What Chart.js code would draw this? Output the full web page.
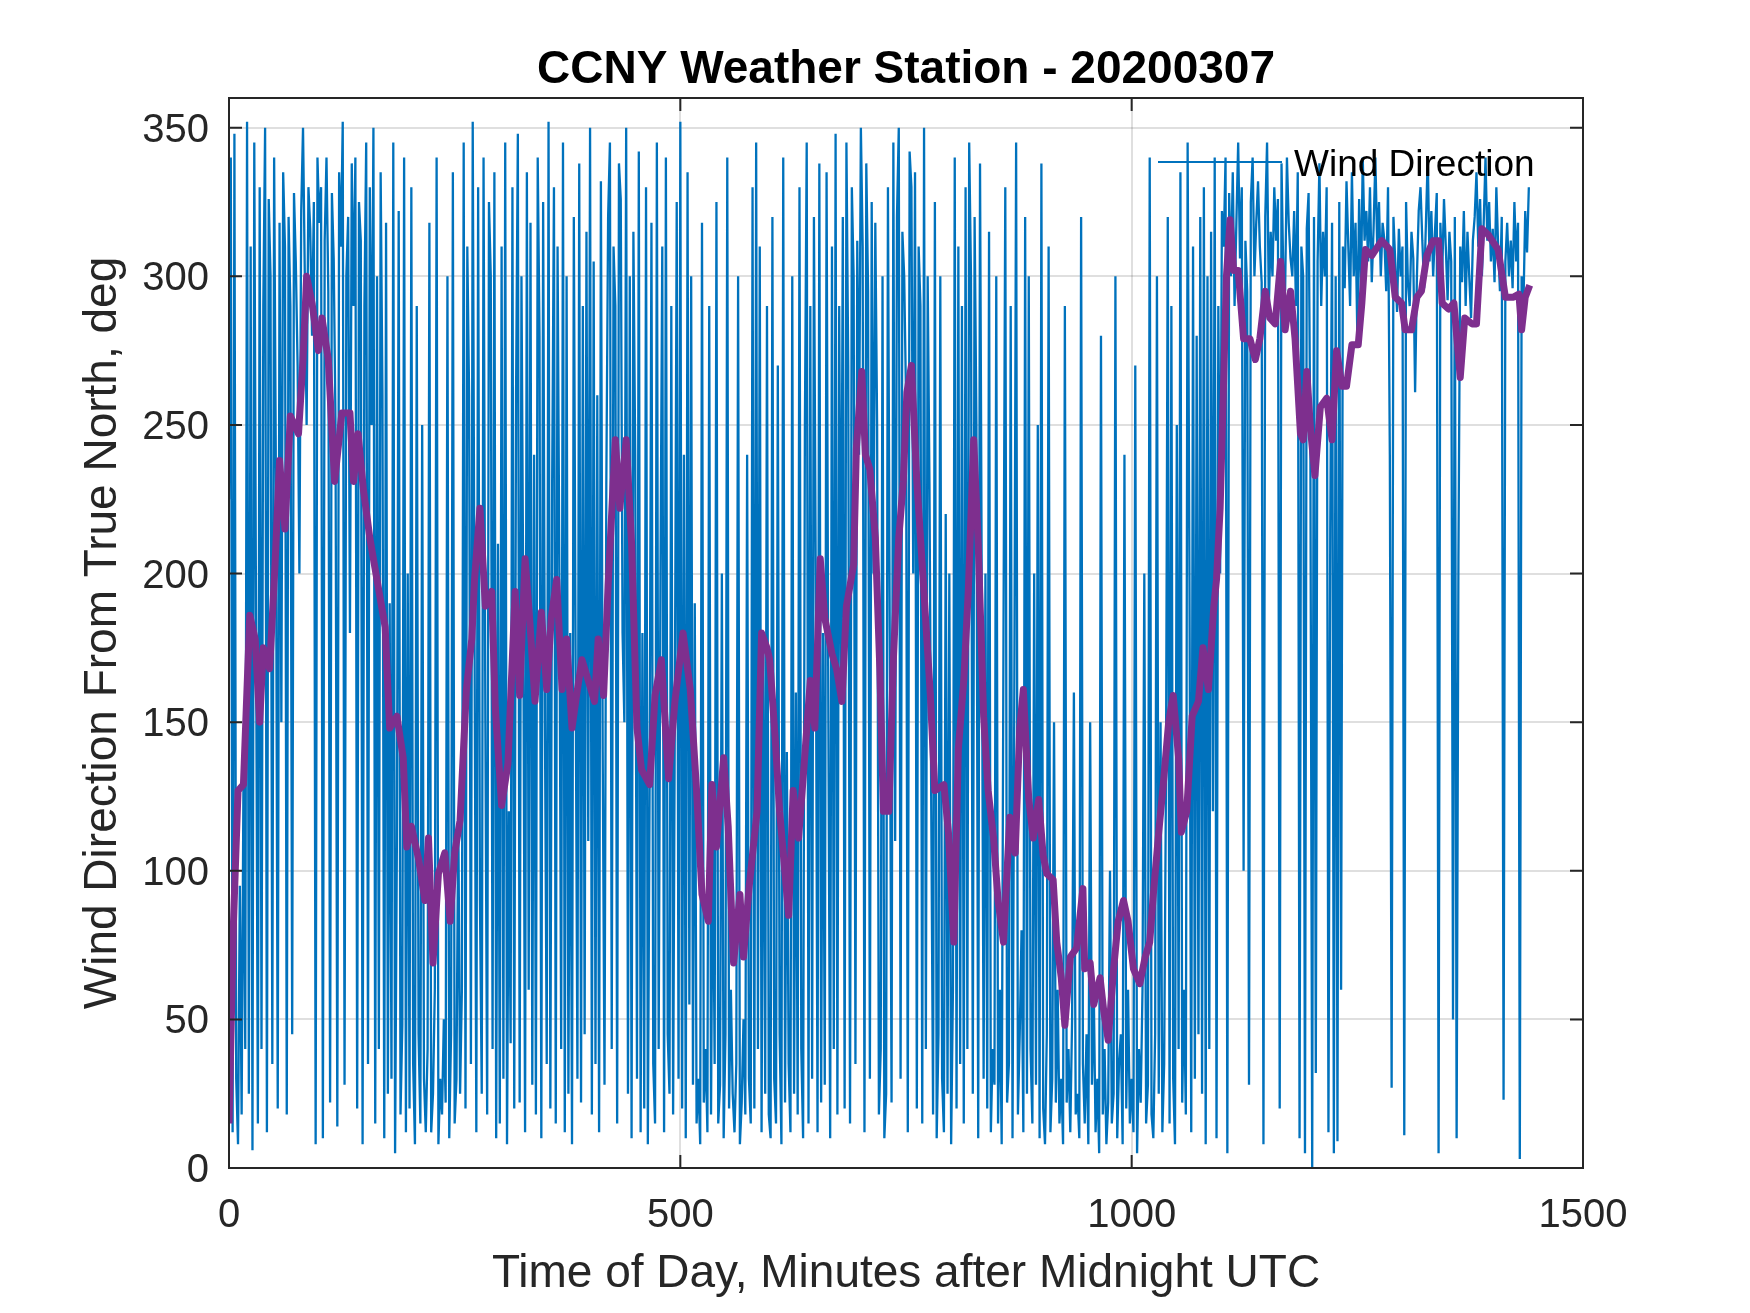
<!DOCTYPE html>
<html>
<head>
<meta charset="utf-8">
<title>CCNY Weather Station - 20200307</title>
<script src="https://cdn.jsdelivr.net/npm/chart.js@4.4.1/dist/chart.umd.min.js"></script>
<style>
  html, body { margin: 0; padding: 0; background: #fff; }
  canvas { display: block; }
</style>
</head>
<body>
<canvas id="wind-chart" width="1750" height="1313"></canvas>
<script>
// Raw wind direction, one sample every 2 minutes from 0 to 1440
const sampleStep = 2;
const windDirection = [
  225, 340, 12, 348, 30, 8, 95, 18, 130, 40,        // 0
  352, 25, 310, 6, 345, 180, 15, 330, 40, 290,      // 20
  350, 12, 326, 300, 35, 340, 230, 20, 318, 150,    // 40
  335, 310, 18, 320, 290, 45, 328, 305, 270, 200,   // 60
  322, 350, 300, 250, 330, 316, 280, 325, 8, 340,   // 80
  318, 330, 10, 312, 340, 295, 22, 328, 306, 250,   // 100
  14, 335, 310, 352, 28, 300, 320, 180, 338, 290,   // 120
  340, 20, 325, 312, 8, 290, 345, 35, 330, 250,     // 140
  350, 15, 300, 40, 335, 260, 10, 318, 25, 190,     // 160
  30, 345, 5, 110, 322, 18, 48, 340, 12, 200,       // 180
  20, 330, 35, 8, 290, 45, 15, 250, 30, 12,         // 200
  40, 318, 12, 25, 60, 340, 8, 30, 18, 50,          // 220
  22, 300, 10, 45, 335, 15, 30, 120, 25, 60,        // 240
  345, 20, 310, 260, 35, 352, 180, 12, 330, 90,     // 260
  25, 340, 150, 18, 325, 300, 40, 335, 10, 210,     // 280
  15, 310, 30, 345, 8, 120, 42, 330, 20, 260,       // 300
  348, 22, 300, 190, 12, 335, 60, 318, 28, 240,     // 320
  18, 340, 280, 10, 325, 150, 35, 352, 20, 230,     // 340
  330, 15, 310, 200, 40, 345, 12, 300, 25, 180,     // 360
  8, 320, 170, 30, 338, 22, 290, 45, 315, 110,      // 380
  350, 18, 305, 35, 260, 12, 332, 140, 28, 230,     // 400
  320, 345, 40, 310, 290, 15, 338, 326, 180, 150,   // 420
  350, 25, 300, 10, 315, 240, 30, 342, 12, 180,     // 440
  20, 330, 8, 130, 318, 35, 15, 345, 40, 200,       // 460
  310, 12, 340, 45, 25, 290, 18, 160, 325, 30,      // 480
  352, 20, 240, 10, 335, 55, 300, 28, 190, 15,      // 500
  30, 8, 318, 22, 40, 12, 290, 18, 120, 35,         // 520
  325, 15, 28, 200, 10, 45, 340, 20, 60, 25,        // 540
  12, 35, 300, 8, 22, 50, 18, 240, 30, 15,          // 560
  330, 20, 345, 40, 310, 12, 180, 25, 290, 18,      // 580
  10, 320, 30, 15, 270, 45, 8, 340, 22, 140,        // 600
  35, 12, 300, 25, 160, 18, 330, 40, 10, 250,       // 620
  345, 15, 290, 30, 320, 200, 12, 338, 22, 180,     // 640
  28, 335, 150, 10, 310, 40, 348, 18, 290, 160,     // 660
  320, 20, 345, 270, 15, 330, 300, 35, 312, 240,    // 680
  350, 310, 12, 338, 295, 30, 325, 200, 318, 250,   // 700
  18, 40, 300, 10, 25, 330, 180, 22, 345, 110,      // 720
  320, 350, 30, 315, 300, 260, 12, 342, 330, 200,   // 740
  335, 20, 310, 290, 15, 350, 40, 300, 230, 120,    // 760
  18, 325, 10, 45, 300, 30, 12, 220, 25, 200,       // 780
  8, 60, 340, 20, 310, 35, 290, 15, 330, 40,        // 800
  345, 300, 25, 320, 250, 10, 338, 190, 30, 200,    // 820
  20, 315, 12, 40, 28, 300, 15, 60, 8, 180,         // 840
  330, 22, 35, 290, 10, 160, 345, 18, 45, 80,       // 860
  12, 320, 25, 300, 40, 15, 200, 28, 250, 10,       // 880
  338, 20, 8, 45, 310, 12, 30, 150, 22, 60,         // 900
  15, 30, 8, 290, 22, 40, 12, 50, 160, 18,          // 920
  25, 10, 320, 35, 15, 45, 8, 150, 28, 60,          // 940
  12, 30, 5, 280, 18, 40, 8, 22, 100, 15,           // 960
  25, 300, 10, 35, 45, 8, 240, 20, 60, 15,          // 980
  30, 12, 270, 5, 40, 22, 60, 200, 15, 28,          // 1000
  340, 18, 10, 45, 300, 25, 150, 12, 35, 130,       // 1020
  320, 15, 290, 30, 8, 250, 40, 335, 22, 60,        // 1040
  18, 345, 200, 12, 310, 30, 280, 45, 320, 25,      // 1060
  330, 8, 300, 40, 315, 120, 340, 10, 290, 200,     // 1080
  322, 310, 340, 5, 328, 300, 335, 290, 318, 345,   // 1100
  306, 330, 100, 312, 295, 28, 325, 340, 300, 318,  // 1120
  332, 310, 298, 8, 320, 345, 290, 315, 300, 330,   // 1140
  312, 326, 20, 338, 300, 295, 340, 318, 306, 300,  // 1160
  322, 290, 335, 10, 310, 300, 5, 316, 328, 240,    // 1180
  0, 320, 32, 305, 338, 290, 315, 300, 330, 12,     // 1200
  215, 318, 5, 300, 9, 325, 60, 310, 296, 332,      // 1220
  310, 290, 335, 300, 318, 280, 326, 295, 340, 312, // 1240
  322, 305, 330, 298, 316, 340, 310, 325, 300, 318, // 1260
  312, 295, 330, 240, 27, 320, 305, 288, 316, 300,  // 1280
  310, 11, 325, 298, 290, 315, 306, 261, 300, 322,  // 1300
  330, 312, 296, 318, 340, 305, 322, 300, 315, 328, // 1320
  5, 318, 300, 326, 310, 292, 315, 305, 50, 320,    // 1340
  10, 205, 310, 298, 322, 290, 315, 300, 286, 312,  // 1360
  320, 335, 310, 326, 300, 318, 340, 312, 325, 305, // 1380
  316, 298, 330, 310, 295, 320, 23, 305, 318, 300,  // 1400
  312, 296, 325, 305, 318, 3, 300, 290, 322, 308,   // 1420
  330                                               // 1440
];

// Smoothed (running mean) curve, purple
const smoothTime = [
  0, 5, 10, 16, 23, 29, 34, 38, 45, 51, 56, 62, 68, 77, 82, 86, 92, 99, 103, 110,
  117, 125, 134, 138, 143, 149, 156, 165, 173, 178, 186, 193, 197, 202, 210, 217, 221, 226, 232, 239,
  245, 250, 256, 263, 269, 272, 278, 284, 291, 295, 302, 309, 317, 322, 328, 333, 339, 346, 352, 357,
  363, 369, 374, 380, 385, 391, 398, 405, 409, 415, 420, 428, 433, 440, 446, 452, 457, 466, 472, 479,
  487, 494, 503, 511, 518, 524, 531, 535, 540, 548, 553, 559, 566, 570, 576, 585, 590, 596, 599, 605,
  610, 616, 620, 625, 631, 636, 644, 649, 655, 660, 668, 673, 679, 684, 692, 695, 701, 705, 710, 716,
  721, 725, 731, 736, 742, 747, 751, 756, 762, 769, 777, 782, 792, 797, 803, 808, 814, 819, 825, 830,
  836, 841, 847, 852, 858, 865, 871, 876, 880, 886, 891, 897, 902, 906, 913, 917, 922, 926, 932, 939,
  946, 948, 954, 958, 965, 969, 974, 980, 985, 991, 996, 1002, 1009, 1015, 1020, 1024, 1030, 1035, 1041, 1046,
  1052, 1055, 1061, 1067, 1074, 1079, 1085, 1091, 1094, 1098, 1102, 1105, 1109, 1113, 1118, 1124, 1131, 1137, 1142, 1148,
  1153, 1159, 1165, 1170, 1176, 1181, 1187, 1190, 1194, 1198, 1203, 1209, 1216, 1222, 1227, 1233, 1238, 1244, 1251, 1255,
  1259, 1266, 1277, 1286, 1292, 1299, 1303, 1310, 1316, 1321, 1327, 1334, 1340, 1344, 1351, 1357, 1364, 1369, 1377, 1382,
  1388, 1395, 1406, 1414, 1423, 1429, 1432, 1436, 1441
];
const smoothDirection = [
  15, 83, 127, 129, 186, 178, 150, 175, 168, 203, 238, 215, 253, 247, 272, 300, 291, 275, 286, 272,
  231, 254, 254, 231, 247, 228, 212, 196, 182, 148, 152, 138, 108, 115, 104, 90, 111, 69, 99, 106,
  83, 106, 117, 161, 178, 198, 222, 189, 194, 155, 122, 136, 194, 159, 205, 185, 157, 187, 161, 185,
  198, 161, 178, 148, 159, 171, 164, 157, 178, 159, 196, 245, 222, 245, 210, 148, 134, 129, 159, 171,
  131, 157, 180, 161, 127, 92, 83, 129, 108, 138, 115, 69, 92, 71, 94, 120, 180, 175, 171, 145,
  120, 99, 85, 127, 111, 131, 164, 148, 205, 185, 173, 168, 157, 189, 203, 242, 268, 240, 235, 212,
  168, 120, 120, 171, 212, 231, 261, 270, 231, 198, 159, 127, 129, 113, 76, 141, 164, 194, 245, 210,
  152, 127, 111, 90, 76, 118, 106, 148, 161, 124, 111, 124, 105, 99, 97, 76, 64, 48, 71, 74,
  94, 67, 69, 55, 64, 53, 43, 67, 83, 90, 83, 67, 62, 71, 76, 92, 113, 129, 150, 159,
  138, 113, 120, 152, 157, 175, 161, 189, 198, 222, 266, 300, 319, 302, 302, 279, 279, 272, 279, 295,
  286, 284, 305, 282, 295, 279, 247, 245, 268, 249, 233, 256, 259, 245, 275, 263, 263, 277, 277, 291,
  309, 307, 312, 309, 293, 291, 282, 282, 293, 295, 307, 312, 312, 291, 289, 291, 266, 286, 284, 284,
  316, 314, 309, 293, 293, 294, 282, 293, 297
];

const xTicks = [0, 500, 1000, 1500];
const yTicks = [0, 50, 100, 150, 200, 250, 300, 350];

const FONT = "'Liberation Sans', Arial, Helvetica, sans-serif";
const AXIS_COLOR = '#262626';
const GRID_COLOR = 'rgba(38, 38, 38, 0.15)';

const rawPoints = windDirection.map((v, i) => ({ x: i * sampleStep, y: v }));
const smoothPoints = smoothDirection.map((v, i) => ({ x: smoothTime[i], y: v }));

// MATLAB-like frame: box, inward ticks, title and an unboxed legend
const matlabFrame = {
  id: 'matlabFrame',
  afterDatasetsDraw(chart) {
    const { ctx, chartArea: a, scales } = chart;
    const tickLen = 13;
    ctx.save();
    ctx.strokeStyle = AXIS_COLOR;
    ctx.lineWidth = 2;
    ctx.beginPath();
    scales.x.ticks.forEach((t) => {
      const px = scales.x.getPixelForValue(t.value);
      ctx.moveTo(px, a.bottom);
      ctx.lineTo(px, a.bottom - tickLen);
      ctx.moveTo(px, a.top);
      ctx.lineTo(px, a.top + tickLen);
    });
    scales.y.ticks.forEach((t) => {
      const py = scales.y.getPixelForValue(t.value);
      ctx.moveTo(a.left, py);
      ctx.lineTo(a.left + tickLen, py);
      ctx.moveTo(a.right, py);
      ctx.lineTo(a.right - tickLen, py);
    });
    ctx.stroke();
    ctx.strokeRect(a.left, a.top, a.right - a.left, a.bottom - a.top);
    ctx.restore();
  },
  afterDraw(chart) {
    const { ctx, chartArea: a } = chart;
    ctx.save();
    // title
    ctx.fillStyle = '#000';
    ctx.font = 'bold 46px ' + FONT;
    ctx.textAlign = 'center';
    ctx.textBaseline = 'alphabetic';
    ctx.fillText('CCNY Weather Station - 20200307', (a.left + a.right) / 2, a.top - 15);
    // legend (first dataset only)
    const ds = chart.data.datasets[0];
    const ly = a.top + 64;
    ctx.strokeStyle = ds.borderColor;
    ctx.lineWidth = 2;
    ctx.beginPath();
    ctx.moveTo(a.right - 425, ly);
    ctx.lineTo(a.right - 301, ly);
    ctx.stroke();
    ctx.font = '37px ' + FONT;
    ctx.textAlign = 'left';
    ctx.fillText(ds.label, a.right - 289, ly + 14);
    ctx.restore();
  }
};

const ctx = document.getElementById('wind-chart').getContext('2d');

new Chart(ctx, {
  type: 'line',
  data: {
    datasets: [
      {
        label: 'Wind Direction',
        data: rawPoints,
        borderColor: '#0072BD',
        backgroundColor: '#0072BD',
        borderWidth: 2.3,
        borderJoinStyle: 'bevel',
        pointRadius: 0,
        tension: 0,
        order: 2,
      },
      {
        label: 'Running Mean',
        data: smoothPoints,
        borderColor: '#7E2F8E',
        backgroundColor: '#7E2F8E',
        borderWidth: 7,
        borderJoinStyle: 'round',
        pointRadius: 0,
        tension: 0,
        order: 1,
      },
    ],
  },
  options: {
    responsive: false,
    devicePixelRatio: 1,
    animation: false,
    events: [],
    layout: { padding: { top: 98, right: 167, bottom: 0, left: 0 } },
    plugins: {
      legend: { display: false },
      title: { display: false },
      tooltip: { enabled: false },
    },
    scales: {
      x: {
        type: 'linear',
        min: 0,
        max: 1500,
        afterBuildTicks: (s) => { s.ticks = xTicks.map((v) => ({ value: v })); },
        afterFit: (s) => { s.height = 145; },
        grid: { color: GRID_COLOR, lineWidth: 2, drawTicks: false },
        border: { display: false },
        ticks: {
          font: { family: FONT, size: 40 },
          color: AXIS_COLOR,
          padding: 24,
          maxRotation: 0,
          autoSkip: false,
          callback: (v) => String(v),
        },
        title: {
          display: true,
          text: 'Time of Day, Minutes after Midnight UTC',
          font: { family: FONT, size: 46 },
          color: AXIS_COLOR,
          padding: { top: 0, bottom: 11 },
        },
      },
      y: {
        type: 'linear',
        min: 0,
        max: 360,
        afterBuildTicks: (s) => { s.ticks = yTicks.map((v) => ({ value: v })); },
        afterFit: (s) => { s.width = 229; },
        grid: { color: GRID_COLOR, lineWidth: 2, drawTicks: false },
        border: { display: false },
        ticks: {
          font: { family: FONT, size: 40 },
          color: AXIS_COLOR,
          padding: 20,
          labelOffset: 3,
          autoSkip: false,
          callback: (v) => String(v),
        },
        title: {
          display: true,
          text: 'Wind Direction From True North, deg',
          font: { family: FONT, size: 46 },
          color: AXIS_COLOR,
          padding: { top: 76, bottom: 0 },
        },
      },
    },
  },
  plugins: [matlabFrame],
});
</script>
</body>
</html>
